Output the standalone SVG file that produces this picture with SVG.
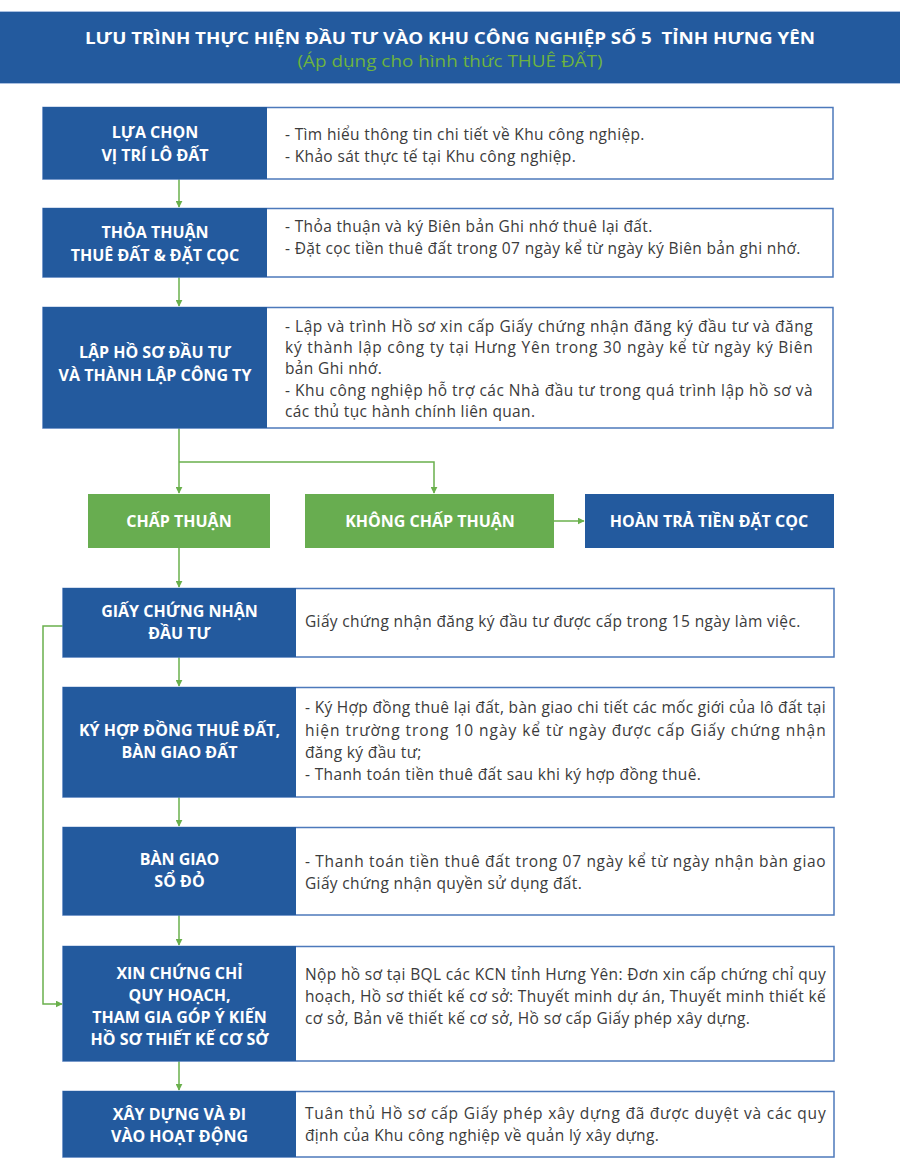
<svg xmlns="http://www.w3.org/2000/svg" width="900" height="1167" viewBox="0 0 900 1167">
<style>
.blue{fill:#235a9e}
.green{fill:#68ad50}
.desc{fill:#ffffff;stroke:#4d79bb;stroke-width:1.5}
.h{font-family:"Open Sans","Noto Sans","DejaVu Sans",sans-serif;font-weight:bold;font-size:16px;fill:#ffffff;text-anchor:middle}
.t{font-family:"Open Sans","Noto Sans","DejaVu Sans",sans-serif;font-size:15.5px;letter-spacing:0.35px;fill:#3b3b3b}
.c{fill:none;stroke:#6ab04c;stroke-width:1.5}
</style>
<defs>
<marker id="ah" viewBox="0 0 10 10" refX="9" refY="5" markerWidth="7" markerHeight="7" orient="auto" markerUnits="userSpaceOnUse">
<path d="M0,0 L10,5 L0,10 Z" fill="#6ab04c"/>
</marker>
</defs>
<rect width="900" height="1167" fill="#ffffff"/>
<g id="header">
<rect x="0" y="11" width="900" height="73" fill="#235a9e"/>
<line x1="0" y1="11.5" x2="900" y2="11.5" stroke="#a9bfe0" stroke-width="1"/>
<line x1="0" y1="83.5" x2="900" y2="83.5" stroke="#a9bfe0" stroke-width="1"/>
<text x="450" y="44" class="h" font-size="17" textLength="730" lengthAdjust="spacingAndGlyphs">LƯU TRÌNH THỰC HIỆN ĐẦU TƯ VÀO KHU CÔNG NGHIỆP SỐ 5&#160; TỈNH HƯNG YÊN</text>
<text x="450" y="67" font-family="'Open Sans','Noto Sans',sans-serif" font-size="15.5" fill="#6db33f" text-anchor="middle" textLength="305" lengthAdjust="spacingAndGlyphs">(Áp dụng cho hình thức THUÊ ĐẤT)</text>
</g>
<g id="connectors">
<line class="c" x1="179" y1="179" x2="179" y2="207" marker-end="url(#ah)"/>
<line class="c" x1="179" y1="277" x2="179" y2="306" marker-end="url(#ah)"/>
<line class="c" x1="179" y1="428" x2="179" y2="493" marker-end="url(#ah)"/>
<polyline class="c" points="179,462 434,462 434,493" marker-end="url(#ah)"/>
<line class="c" x1="554" y1="521" x2="584" y2="521" marker-end="url(#ah)"/>
<line class="c" x1="179" y1="548" x2="179" y2="587" marker-end="url(#ah)"/>
<line class="c" x1="179" y1="657" x2="179" y2="686" marker-end="url(#ah)"/>
<line class="c" x1="179" y1="797" x2="179" y2="826" marker-end="url(#ah)"/>
<line class="c" x1="179" y1="915" x2="179" y2="945" marker-end="url(#ah)"/>
<line class="c" x1="179" y1="1061" x2="179" y2="1090" marker-end="url(#ah)"/>
<polyline class="c" points="63,626 43,626 43,1004 62,1004" marker-end="url(#ah)"/>
</g>
<g id="n1">
<rect class="desc" x="43" y="107.5" width="790" height="71.5"/>
<rect class="blue" x="43" y="107" width="224" height="72"/>
<text class="h" x="155" y="138">LỰA CHỌN</text>
<text class="h" x="155" y="161">VỊ TRÍ LÔ ĐẤT</text>
<text class="t" x="285" y="140">- Tìm hiểu thông tin chi tiết về Khu công nghiệp.</text>
<text class="t" x="285" y="162">- Khảo sát thực tế tại Khu công nghiệp.</text>
</g>
<g id="n2">
<rect class="desc" x="43" y="208.5" width="790" height="68.5"/>
<rect class="blue" x="43" y="208" width="224" height="69"/>
<text class="h" x="155" y="238">THỎA THUẬN</text>
<text class="h" x="155" y="261">THUÊ ĐẤT &amp; ĐẶT CỌC</text>
<text class="t" x="285" y="232">- Thỏa thuận và ký Biên bản Ghi nhớ thuê lại đất.</text>
<text class="t" x="285" y="254">- Đặt cọc tiền thuê đất trong 07 ngày kể từ ngày ký Biên bản ghi nhớ.</text>
</g>
<g id="n3">
<rect class="desc" x="43" y="307.5" width="790" height="120.5"/>
<rect class="blue" x="43" y="307" width="224" height="121"/>
<text class="h" x="155" y="358">LẬP HỒ SƠ ĐẦU TƯ</text>
<text class="h" x="155" y="381">VÀ THÀNH LẬP CÔNG TY</text>
<text class="t" x="285" y="332" textLength="528" lengthAdjust="spacing">- Lập và trình Hồ sơ xin cấp Giấy chứng nhận đăng ký đầu tư và đăng</text>
<text class="t" x="285" y="353" textLength="528" lengthAdjust="spacing">ký thành lập công ty tại Hưng Yên trong 30 ngày kể từ ngày ký Biên</text>
<text class="t" x="285" y="374">bản Ghi nhớ.</text>
<text class="t" x="285" y="396" textLength="528" lengthAdjust="spacing">- Khu công nghiệp hỗ trợ các Nhà đầu tư trong quá trình lập hồ sơ và</text>
<text class="t" x="285" y="417">các thủ tục hành chính liên quan.</text>
</g>
<g id="n_chapthuan">
<rect class="green" x="88" y="494" width="182" height="54"/>
<text class="h" x="179" y="527">CHẤP THUẬN</text>
</g>
<g id="n_khongchapthuan">
<rect class="green" x="305" y="494" width="249" height="54"/>
<text class="h" x="430" y="527">KHÔNG CHẤP THUẬN</text>
</g>
<g id="n_hoantra">
<rect class="blue" x="585" y="494" width="249" height="54"/>
<text class="h" x="709" y="527">HOÀN TRẢ TIỀN ĐẶT CỌC</text>
</g>
<g id="n4">
<rect class="desc" x="63" y="588.5" width="771" height="68.5"/>
<rect class="blue" x="63" y="588" width="233" height="69"/>
<text class="h" x="179.5" y="617">GIẤY CHỨNG NHẬN</text>
<text class="h" x="179.5" y="639">ĐẦU TƯ</text>
<text class="t" x="305" y="627">Giấy chứng nhận đăng ký đầu tư được cấp trong 15 ngày làm việc.</text>
</g>
<g id="n5">
<rect class="desc" x="63" y="687.5" width="771" height="109.5"/>
<rect class="blue" x="63" y="687" width="233" height="110"/>
<text class="h" x="179.5" y="736">KÝ HỢP ĐỒNG THUÊ ĐẤT,</text>
<text class="h" x="179.5" y="758">BÀN GIAO ĐẤT</text>
<text class="t" x="305" y="713" textLength="521" lengthAdjust="spacing">- Ký Hợp đồng thuê lại đất, bàn giao chi tiết các mốc giới của lô đất tại</text>
<text class="t" x="305" y="736" textLength="521" lengthAdjust="spacing">hiện trường trong 10 ngày kể từ ngày được cấp Giấy chứng nhận</text>
<text class="t" x="305" y="758">đăng ký đầu tư;</text>
<text class="t" x="305" y="780">- Thanh toán tiền thuê đất sau khi ký hợp đồng thuê.</text>
</g>
<g id="n6">
<rect class="desc" x="63" y="827.5" width="771" height="87.5"/>
<rect class="blue" x="63" y="827" width="233" height="88"/>
<text class="h" x="179.5" y="865">BÀN GIAO</text>
<text class="h" x="179.5" y="887">SỔ ĐỎ</text>
<text class="t" x="305" y="867" textLength="521" lengthAdjust="spacing">- Thanh toán tiền thuê đất trong 07 ngày kể từ ngày nhận bàn giao</text>
<text class="t" x="305" y="889">Giấy chứng nhận quyền sử dụng đất.</text>
</g>
<g id="n7">
<rect class="desc" x="63" y="946.5" width="771" height="114.5"/>
<rect class="blue" x="63" y="946" width="233" height="115"/>
<text class="h" x="179.5" y="979">XIN CHỨNG CHỈ</text>
<text class="h" x="179.5" y="1001">QUY HOẠCH,</text>
<text class="h" x="179.5" y="1023">THAM GIA GÓP Ý KIẾN</text>
<text class="h" x="179.5" y="1045">HỒ SƠ THIẾT KẾ CƠ SỞ</text>
<text class="t" x="305" y="980" textLength="521" lengthAdjust="spacing">Nộp hồ sơ tại BQL các KCN tỉnh Hưng Yên: Đơn xin cấp chứng chỉ quy</text>
<text class="t" x="305" y="1002" textLength="521" lengthAdjust="spacing">hoạch, Hồ sơ thiết kế cơ sở: Thuyết minh dự án, Thuyết minh thiết kế</text>
<text class="t" x="305" y="1024">cơ sở, Bản vẽ thiết kế cơ sở, Hồ sơ cấp Giấy phép xây dựng.</text>
</g>
<g id="n8">
<rect class="desc" x="63" y="1091.5" width="771" height="65.5"/>
<rect class="blue" x="63" y="1091" width="233" height="66"/>
<text class="h" x="179.5" y="1120">XÂY DỰNG VÀ ĐI</text>
<text class="h" x="179.5" y="1142">VÀO HOẠT ĐỘNG</text>
<text class="t" x="305" y="1119" textLength="521" lengthAdjust="spacing">Tuân thủ Hồ sơ cấp Giấy phép xây dựng đã được duyệt và các quy</text>
<text class="t" x="305" y="1141">định của Khu công nghiệp về quản lý xây dựng.</text>
</g>
</svg>
